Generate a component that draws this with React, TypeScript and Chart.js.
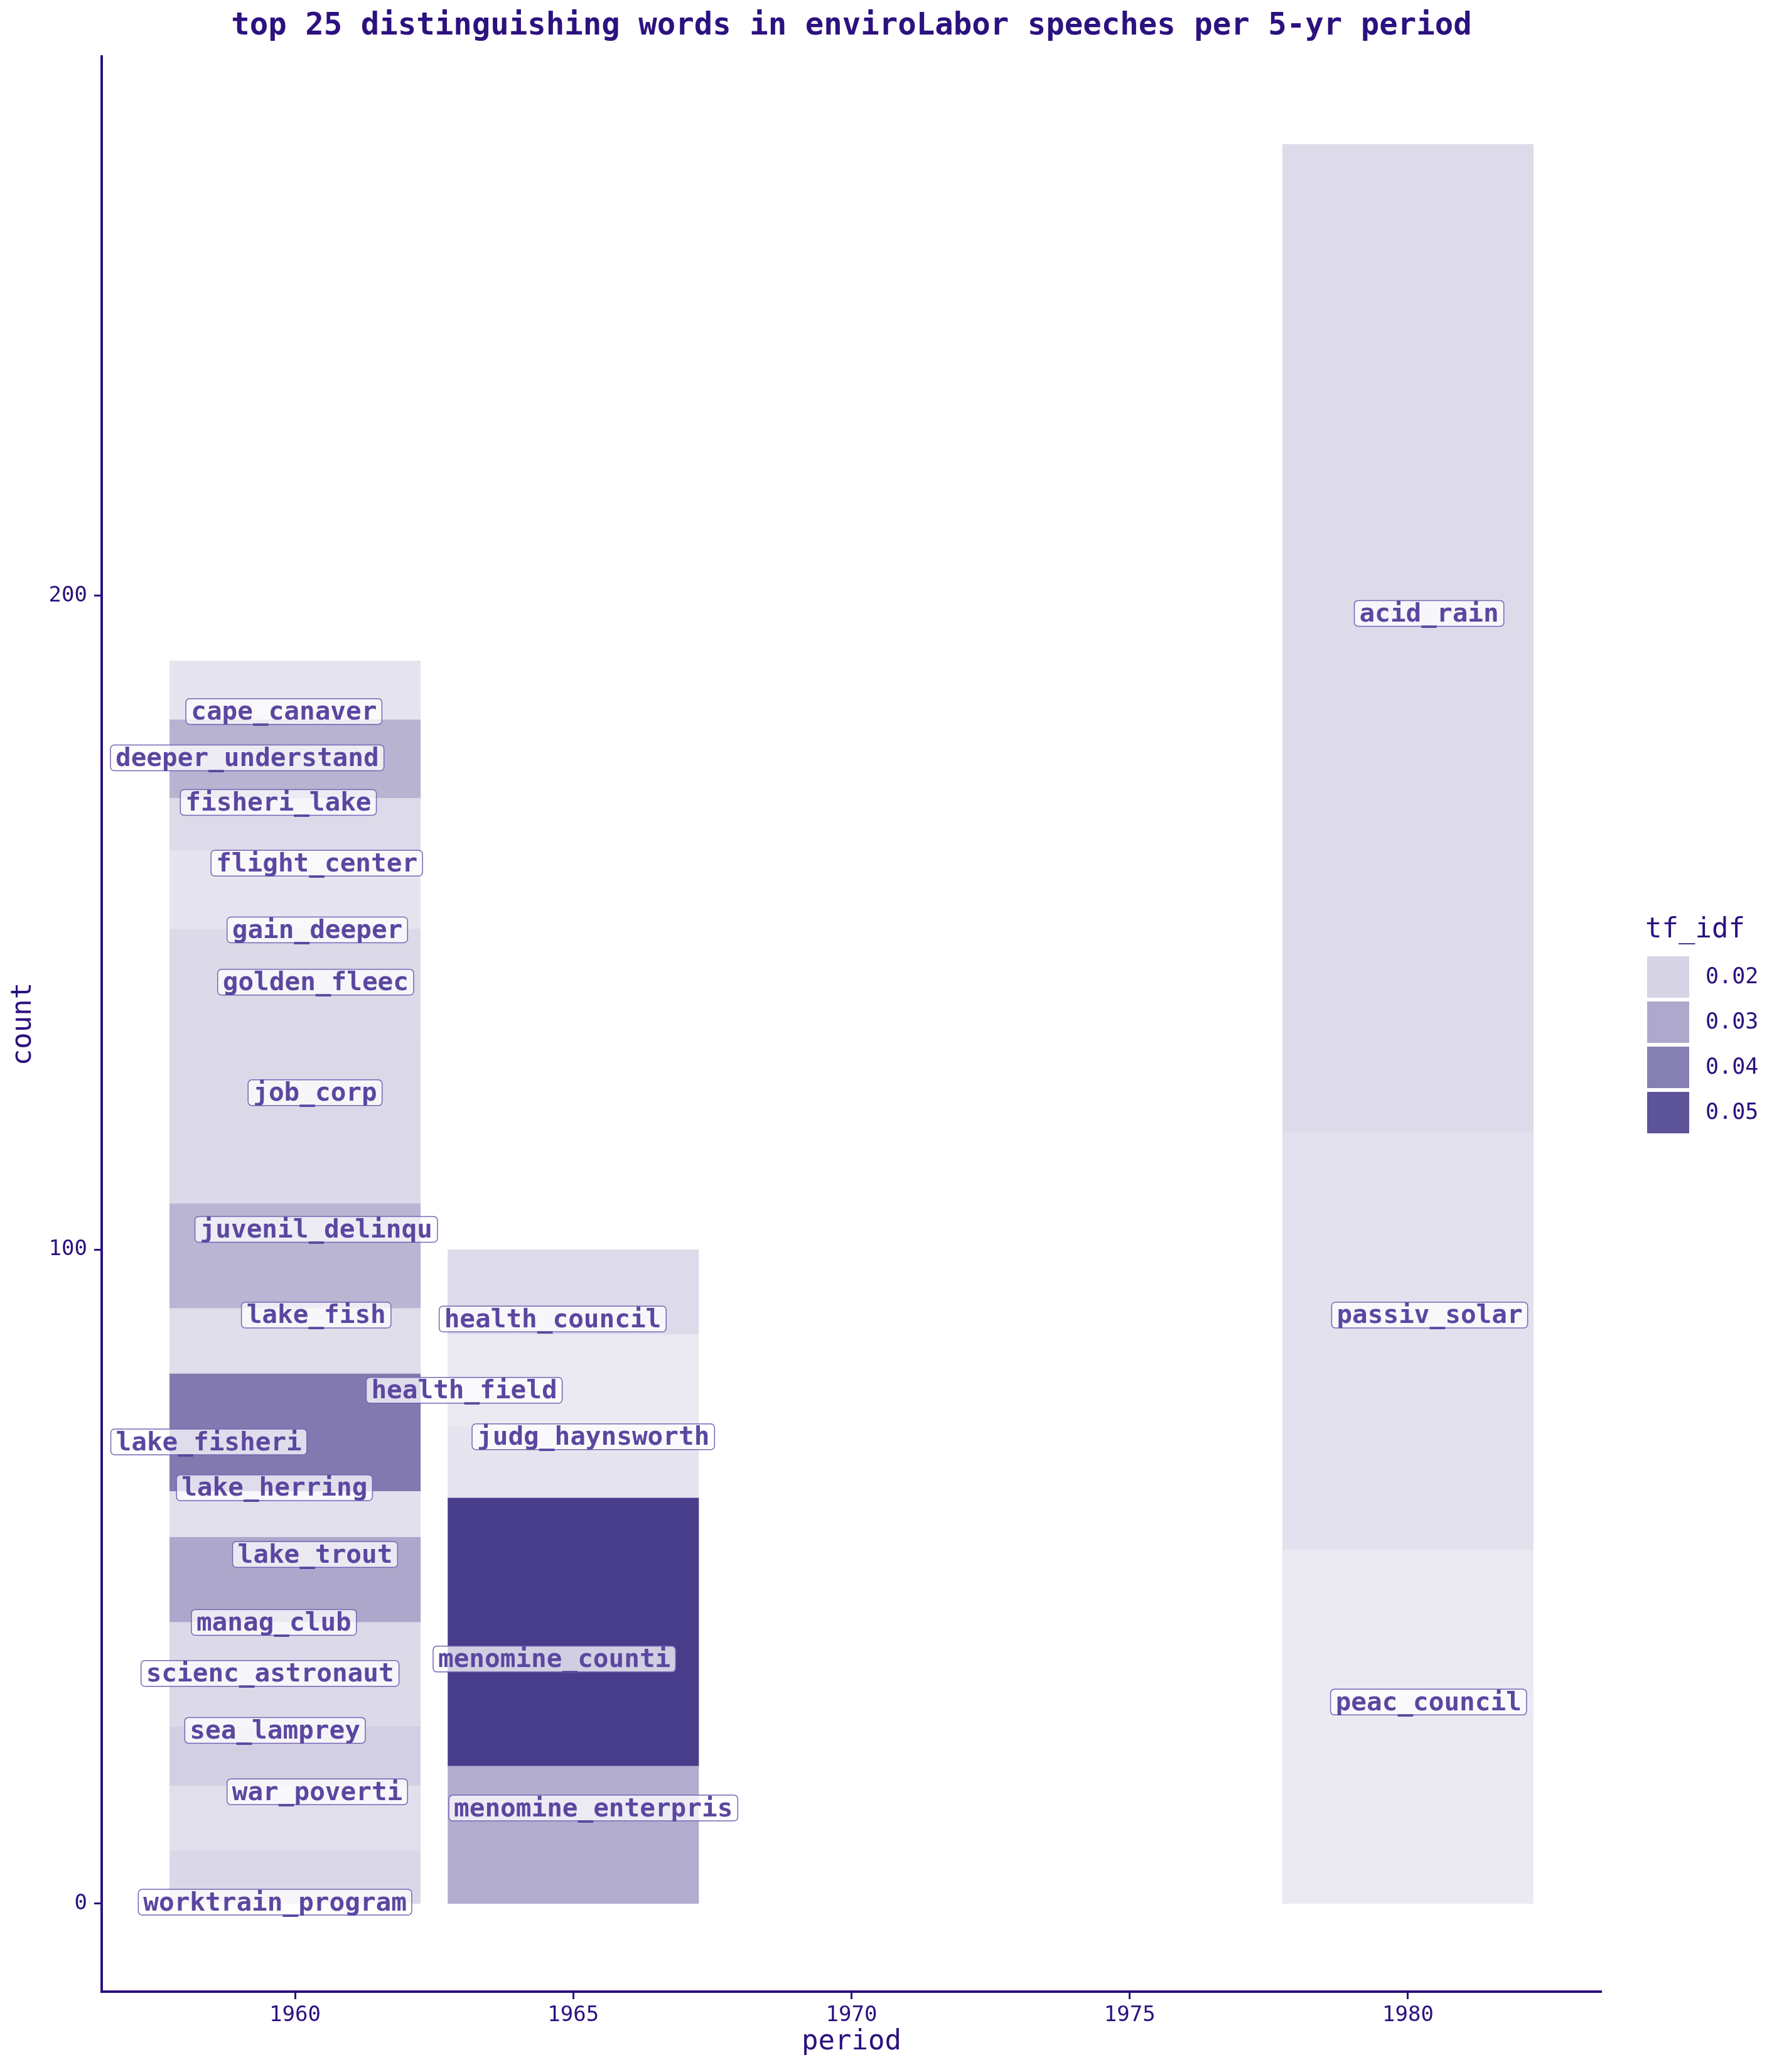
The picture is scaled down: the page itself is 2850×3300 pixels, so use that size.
import React, { useEffect, useRef } from "react";
import { Chart, registerables } from "chart.js";

Chart.register(...registerables);

// ---------- data ----------
const words = [
  "cape_canaver", "deeper_understand", "fisheri_lake", "flight_center", "gain_deeper",
  "golden_fleec", "job_corp", "juvenil_delinqu", "lake_fish", "lake_fisheri",
  "lake_herring", "lake_trout", "manag_club", "scienc_astronaut", "sea_lamprey",
  "war_poverti", "worktrain_program",
  "health_council", "health_field", "judg_haynsworth", "menomine_counti", "menomine_enterpris",
  "acid_rain", "passiv_solar", "peac_council",
];
const periods = [
  1960, 1960, 1960, 1960, 1960, 1960, 1960, 1960, 1960, 1960, 1960, 1960, 1960, 1960, 1960, 1960, 1960,
  1965, 1965, 1965, 1965, 1965,
  1980, 1980, 1980,
];
const counts = [
  9, 12, 8, 12, 8, 8, 26, 16, 10, 18, 7, 13, 8, 8, 9, 10, 8,
  13, 14, 11, 41, 21,
  151, 64, 54,
];
const tfIdf = [
  0.016, 0.0278, 0.0183, 0.016, 0.0185, 0.0185, 0.0188, 0.0273, 0.0176, 0.0413, 0.017, 0.0303,
  0.0185, 0.0185, 0.021, 0.0173, 0.019,
  0.0183, 0.0148, 0.016, 0.0555, 0.029,
  0.0183, 0.0168, 0.0148,
];
const xTicks = [1960, 1965, 1970, 1975, 1980];
const yTicks = [0, 100, 200];
const legendBreaks = [0.02, 0.03, 0.04, 0.05];

// label repel offsets (years, counts) from each segment's middle
const labelNudge: [number, number][] = [
  [-0.2, -3.2], [-0.86, 0.2], [-0.3, 3.4], [0.39, 4.1], [0.4, 3.9],
  [0.37, 3.9], [0.36, 4], [0.38, 4.1], [0.38, 4], [-1.55, -1.4],
  [-0.37, 4.1], [0.36, 3.9], [-0.38, 4], [-0.45, 4.2], [-0.36, 4],
  [0.4, 4.1], [-0.36, -3.8],
  [-0.37, -4.1], [-1.96, -1.5], [0.36, 3.9], [-0.34, -4.1], [0.36, 4.1],
  [0.38, 3.8], [0.39, 4], [0.37, 3.8],
];

// ---------- style ----------
const INK = "#2c117f";
const LABEL_INK = "#5b47a0";
const MONO = "'DejaVu Sans Mono', 'Liberation Mono', monospace";
const T_LOW = 0.0098;
const T_HIGH = 0.0555;
const C_LOW = [255, 255, 255];
const C_HIGH = [72, 61, 139];

function fillFor(t: number): string {
  let f = (t - T_LOW) / (T_HIGH - T_LOW);
  f = Math.max(0, Math.min(1, f));
  const c = C_LOW.map((lo, i) => Math.round(lo + (C_HIGH[i] - lo) * f));
  return `rgb(${c[0]},${c[1]},${c[2]})`;
}

function roundRect(ctx: CanvasRenderingContext2D, x: number, y: number, w: number, h: number, r: number) {
  ctx.beginPath();
  ctx.moveTo(x + r, y);
  ctx.lineTo(x + w - r, y);
  ctx.arcTo(x + w, y, x + w, y + r, r);
  ctx.lineTo(x + w, y + h - r);
  ctx.arcTo(x + w, y + h, x + w - r, y + h, r);
  ctx.lineTo(x + r, y + h);
  ctx.arcTo(x, y + h, x, y + h - r, r);
  ctx.lineTo(x, y + r);
  ctx.arcTo(x, y, x + r, y, r);
  ctx.closePath();
}

const overlayPlugin = {
  id: "overlay",
  afterDraw(chart: any) {
    const ctx: CanvasRenderingContext2D = chart.ctx;
    const xs = chart.scales.x;
    const ys = chart.scales.y;
    const area = chart.chartArea;
    ctx.save();

    // word labels
    ctx.font = `bold 41px ${MONO}`;
    chart.data.datasets.forEach((ds: any, di: number) => {
      const wi = ds.wordIndex;
      const meta = chart.getDatasetMeta(di);
      const el = meta.data[0];
      if (!el) return;
      const midVal = ys.getValueForPixel((el.y + el.base) / 2);
      const [dx, dy] = labelNudge[wi];
      const cx = xs.getPixelForValue(periods[wi] + dx);
      const cy = ys.getPixelForValue(midVal + dy);
      const text = words[wi];
      const tw = ctx.measureText(text).width;
      const w = tw + 16;
      const h = 41;
      roundRect(ctx, cx - w / 2, cy - h / 2, w, h, 6);
      ctx.fillStyle = "rgba(255,255,255,0.75)";
      ctx.fill();
      ctx.lineWidth = 1.5;
      ctx.strokeStyle = "#7566b5";
      ctx.stroke();
      ctx.fillStyle = LABEL_INK;
      ctx.textAlign = "center";
      ctx.textBaseline = "alphabetic";
      ctx.fillText(text, cx, cy + 13);
    });

    // title
    const cxPanel = (area.left + area.right) / 2;
    ctx.fillStyle = INK;
    ctx.textAlign = "center";
    ctx.textBaseline = "middle";
    ctx.font = `bold 49px ${MONO}`;
    ctx.fillText("top 25 distinguishing words in enviroLabor speeches per 5-yr period", cxPanel, 42);

    // axis titles
    ctx.font = `44px ${MONO}`;
    ctx.fillText("period", cxPanel, 3253);
    ctx.save();
    ctx.translate(38, (area.top + area.bottom) / 2);
    ctx.rotate(-Math.PI / 2);
    ctx.fillText("count", 0, 0);
    ctx.restore();

    // legend
    ctx.textAlign = "left";
    ctx.textBaseline = "alphabetic";
    ctx.font = `44px ${MONO}`;
    ctx.fillText("tf_idf", 2621, 1493);
    ctx.font = `35px ${MONO}`;
    ctx.textBaseline = "middle";
    legendBreaks.forEach((b, i) => {
      const ky = 1523 + i * 72;
      ctx.fillStyle = fillFor(b);
      ctx.fillRect(2624, ky, 67, 66);
      ctx.fillStyle = INK;
      ctx.fillText(b.toFixed(2), 2717, ky + 34);
    });

    ctx.restore();
  },
};

export default function App() {
  const ref = useRef<HTMLCanvasElement | null>(null);

  useEffect(() => {
    if (!ref.current) return;
    // stacking: first alphabetical word ends up on top, so push in reverse order
    const order = words.map((_, i) => i).reverse();
    const datasets = order.map((i) => ({
      label: words[i],
      wordIndex: i,
      data: [{ x: periods[i], y: counts[i] }],
      backgroundColor: fillFor(tfIdf[i]),
      borderWidth: 0,
      inflateAmount: 0.6,
      barPercentage: 0.9,
      categoryPercentage: 1.0,
    }));

    const chart = new Chart(ref.current, {
      type: "bar",
      data: { datasets } as any,
      options: {
        animation: false,
        responsive: false,
        devicePixelRatio: 1,
        layout: { padding: { left: 0, top: 90, right: 299, bottom: 0 } },
        plugins: { legend: { display: false }, tooltip: { enabled: false }, title: { display: false } },
        scales: {
          x: {
            type: "linear",
            min: 1956.525,
            max: 1983.475,
            offset: false,
            stacked: true,
            afterBuildTicks: (s: any) => {
              s.ticks = xTicks.map((v) => ({ value: v }));
            },
            afterFit: (s: any) => {
              s.height = 128;
            },
            grid: {
              display: true,
              offset: false,
              drawOnChartArea: false,
              drawTicks: true,
              tickLength: 12,
              tickWidth: 3,
              tickColor: INK,
            },
            border: { display: true, color: INK, width: 4 },
            ticks: {
              color: INK,
              font: { family: MONO, size: 34 },
              padding: 6,
              maxRotation: 0,
              autoSkip: false,
              callback: (v: any) => String(v),
            },
          },
          y: {
            type: "linear",
            min: -13.45,
            max: 282.45,
            stacked: true,
            afterBuildTicks: (s: any) => {
              s.ticks = yTicks.map((v) => ({ value: v }));
            },
            afterFit: (s: any) => {
              s.width = 162;
            },
            grid: {
              display: true,
              offset: false,
              drawOnChartArea: false,
              drawTicks: true,
              tickLength: 12,
              tickWidth: 3,
              tickColor: INK,
            },
            border: { display: true, color: INK, width: 4 },
            ticks: {
              color: INK,
              font: { family: MONO, size: 34 },
              padding: 11,
              autoSkip: false,
              callback: (v: any) => String(v),
            },
          },
        },
      } as any,
      plugins: [overlayPlugin],
    });
    return () => chart.destroy();
  }, []);

  return (
    <div style={{ position: "absolute", left: 0, top: 0, width: 2850, height: 3300, background: "#ffffff" }}>
      <canvas ref={ref} width={2850} height={3300} style={{ display: "block", width: 2850, height: 3300 }} />
    </div>
  );
}
